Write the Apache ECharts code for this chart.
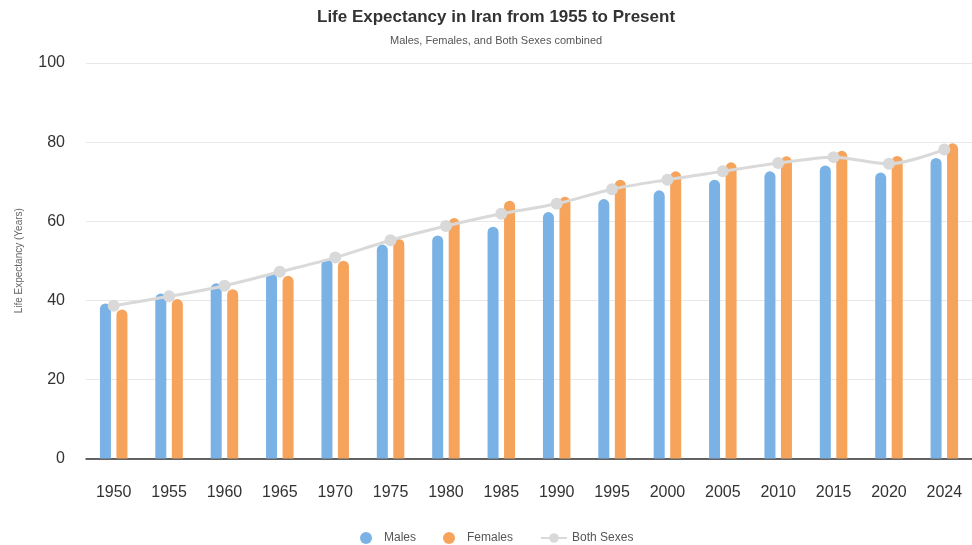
<!DOCTYPE html>
<html>
<head>
<meta charset="utf-8">
<style>
  html, body { margin: 0; padding: 0; background: #ffffff; }
  #chart { width: 972px; height: 545px; }
</style>
<script src="https://cdn.jsdelivr.net/npm/echarts@6/dist/echarts.min.js"></script>
</head>
<body>
<div id="chart"></div>
<script>
// Survey years on the category axis
const years = ['1950', '1955', '1960', '1965', '1970', '1975', '1980', '1985',
               '1990', '1995', '2000', '2005', '2010', '2015', '2020', '2024'];

// Life expectancy at birth, in years
const males   = [39.2, 41.7, 44.3, 46.9, 50.4, 54.1, 56.4, 58.6, 62.3, 65.6, 67.8, 70.5, 72.6, 74.1, 72.3, 76.0];
const females = [37.7, 40.3, 42.8, 46.2, 50.0, 55.5, 60.8, 65.2, 66.2, 70.5, 72.6, 74.9, 76.4, 77.8, 76.5, 79.7];
const both    = [38.6, 41.0, 43.7, 47.2, 50.8, 55.2, 58.8, 61.9, 64.4, 68.1, 70.5, 72.6, 74.7, 76.2, 74.5, 78.1];

const FONT = '"Liberation Sans", Arial, Helvetica, sans-serif';

const chart = echarts.init(document.getElementById('chart'), null, { renderer: 'canvas' });

chart.setOption({
  backgroundColor: '#ffffff',
  animation: false,
  textStyle: { fontFamily: FONT },
  title: [
    {
      text: 'Life Expectancy in Iran from 1955 to Present',
      left: 312,
      top: 4,
      textStyle: { fontFamily: FONT, fontSize: 17, fontWeight: 'bold', color: '#333333' }
    },
    {
      text: 'Males, Females, and Both Sexes combined',
      left: 385,
      top: 30,
      textStyle: { fontFamily: FONT, fontSize: 11, fontWeight: 'normal', color: '#555555' }
    }
  ],
  legend: {
    bottom: -4,
    left: 355,
    itemGap: 27,
    itemWidth: 26,
    itemHeight: 12,
    textStyle: { fontFamily: FONT, fontSize: 12, color: '#555555' },
    data: [
      { name: 'Males', icon: 'circle' },
      { name: 'Females', icon: 'circle' },
      { name: 'Both Sexes' }
    ]
  },
  grid: { left: 86, right: -2, top: 63, bottom: 86.5 },
  xAxis: {
    type: 'category',
    data: years,
    axisLine: { lineStyle: { color: '#333333', width: 1.5 } },
    axisTick: { show: false },
    axisLabel: { fontFamily: FONT, fontSize: 16, color: '#333333', margin: 26 }
  },
  yAxis: {
    type: 'value',
    min: 0,
    max: 100,
    interval: 20,
    name: 'Life Expectancy (Years)',
    nameLocation: 'middle',
    nameGap: 62,
    nameTextStyle: { fontFamily: FONT, fontSize: 10, color: '#666666' },
    axisLine: { show: false },
    axisTick: { show: false },
    axisLabel: { fontFamily: FONT, fontSize: 16, color: '#333333', margin: 21 },
    splitLine: { lineStyle: { color: '#e8e8e8', width: 1 } }
  },
  series: [
    {
      name: 'Males',
      type: 'bar',
      data: males,
      barWidth: 11,
      barGap: '50%',
      itemStyle: { color: '#7ab2e6', borderRadius: [5.5, 5.5, 0, 0] }
    },
    {
      name: 'Females',
      type: 'bar',
      data: females,
      barWidth: 11,
      itemStyle: { color: '#f6a35c', borderRadius: [5.5, 5.5, 0, 0] }
    },
    {
      name: 'Both Sexes',
      type: 'line',
      data: both,
      smooth: 0.3,
      symbol: 'circle',
      symbolSize: 12,
      z: 5,
      lineStyle: { color: '#d9d9d9', width: 3 },
      itemStyle: { color: '#d9d9d9' }
    }
  ]
});
</script>
</body>
</html>
